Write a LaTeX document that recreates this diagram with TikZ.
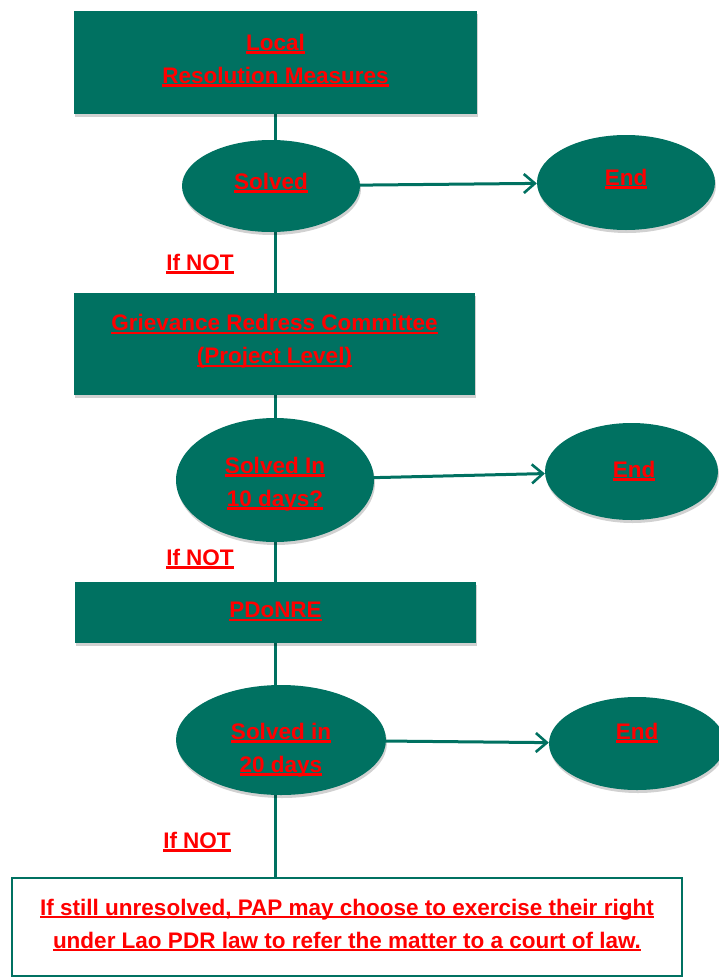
\documentclass[tikz,border=0pt]{standalone}
\usepackage{fontspec}
\setmainfont{Liberation Sans}
\usetikzlibrary{arrows.meta,shapes.geometric,shadows,backgrounds}
\definecolor{teal1}{RGB}{0,113,97}
\definecolor{redtxt}{RGB}{255,0,0}
\newcommand\ulx[1]{\leavevmode\setbox0\hbox{#1}\rlap{\color{redtxt}\rule[-3.2pt]{\wd0}{2.3pt}}\box0}
\begin{document}
\begin{tikzpicture}[x=1pt,y=-1pt,
 txt/.style={text=redtxt,font=\fontsize{22.5}{33}\selectfont\bfseries,align=center},
 softshadow/.style={drop shadow={shadow xshift=1pt,shadow yshift=-3pt,opacity=0.18,fill=black}},
 tbox/.style={rectangle,fill=teal1,draw=none,txt,inner sep=0pt,softshadow},
 tell/.style={ellipse,fill=teal1,draw=none,inner sep=0pt,softshadow},
 link/.style={draw=teal1,line width=3pt},
 arr/.style={link,-{Straight Barb[length=11pt,width=19pt,line width=2.6pt]}}
]
\useasboundingbox (0,0) rectangle (718,980);

\node[tbox,minimum width=403pt,minimum height=103pt] (box1) at (275.5,62.5) {};
\node[txt] (box1t) at (275.5,60.5) {\ulx{Local}\\\ulx{Resolution Measures}};
\node[tell,minimum width=178pt,minimum height=92pt] (e1) at (271,186) {};
\node[txt] (e1t) at (271,183) {\ulx{Solved}};
\node[tell,minimum width=178pt,minimum height=95pt] (end1) at (626,182.5) {};
\node[txt] (end1t) at (626,179) {\ulx{End}};
\node[txt] (if1) at (200,264) {\ulx{If NOT}};

\node[tbox,minimum width=401pt,minimum height=102pt] (box2) at (274.5,344) {};
\node[txt] (box2t) at (274.5,341.5) {\ulx{Grievance Redress Committee}\\\ulx{(Project Level)}};
\node[tell,minimum width=198pt,minimum height=124pt] (e2) at (275,480) {};
\node[txt] (e2t) at (275,484) {\ulx{Solved In}\\\ulx{10 days?}};
\node[tell,minimum width=173pt,minimum height=97pt] (end2) at (631.5,471.5) {};
\node[txt] (end2t) at (634,471) {\ulx{End}};
\node[txt] (if2) at (200,559) {\ulx{If NOT}};

\node[tbox,minimum width=401pt,minimum height=61pt] (box3) at (275.5,612.5) {};
\node[txt] (box3t) at (275.5,611.5) {\ulx{PDoNRE}};
\node[tell,minimum width=210pt,minimum height=110pt] (e3) at (281,740) {};
\node[txt] (e3t) at (281,750) {\ulx{Solved in}\\\ulx{20 days}};
\node[tell,minimum width=176pt,minimum height=93pt] (end3) at (637,743.5) {};
\node[txt] (end3t) at (637,733) {\ulx{End}};
\node[txt] (if3) at (197,842) {\ulx{If NOT}};

\node[rectangle,draw=teal1,line width=2.5pt,fill=white,minimum width=670pt,minimum height=98pt] (last) at (347,927) {};
\node[txt] (lastt) at (347,925) {\ulx{If still unresolved, PAP may choose to exercise their right}\\\ulx{under Lao PDR law to refer the matter to a court of law.}};

\begin{pgfonlayer}{background}
\draw[link] (box1.south) -- (box1.south |- box2.north);
\draw[link] (box1.south |- box2.south) -- (box1.south |- box3.north);
\draw[link] (box1.south |- box3.south) -- (box1.south |- last.north);
\end{pgfonlayer}
\draw[arr] (e1) -- (end1);
\draw[arr] (e2) -- (end2);
\draw[arr] (e3) -- (end3);
\end{tikzpicture}
\end{document}
